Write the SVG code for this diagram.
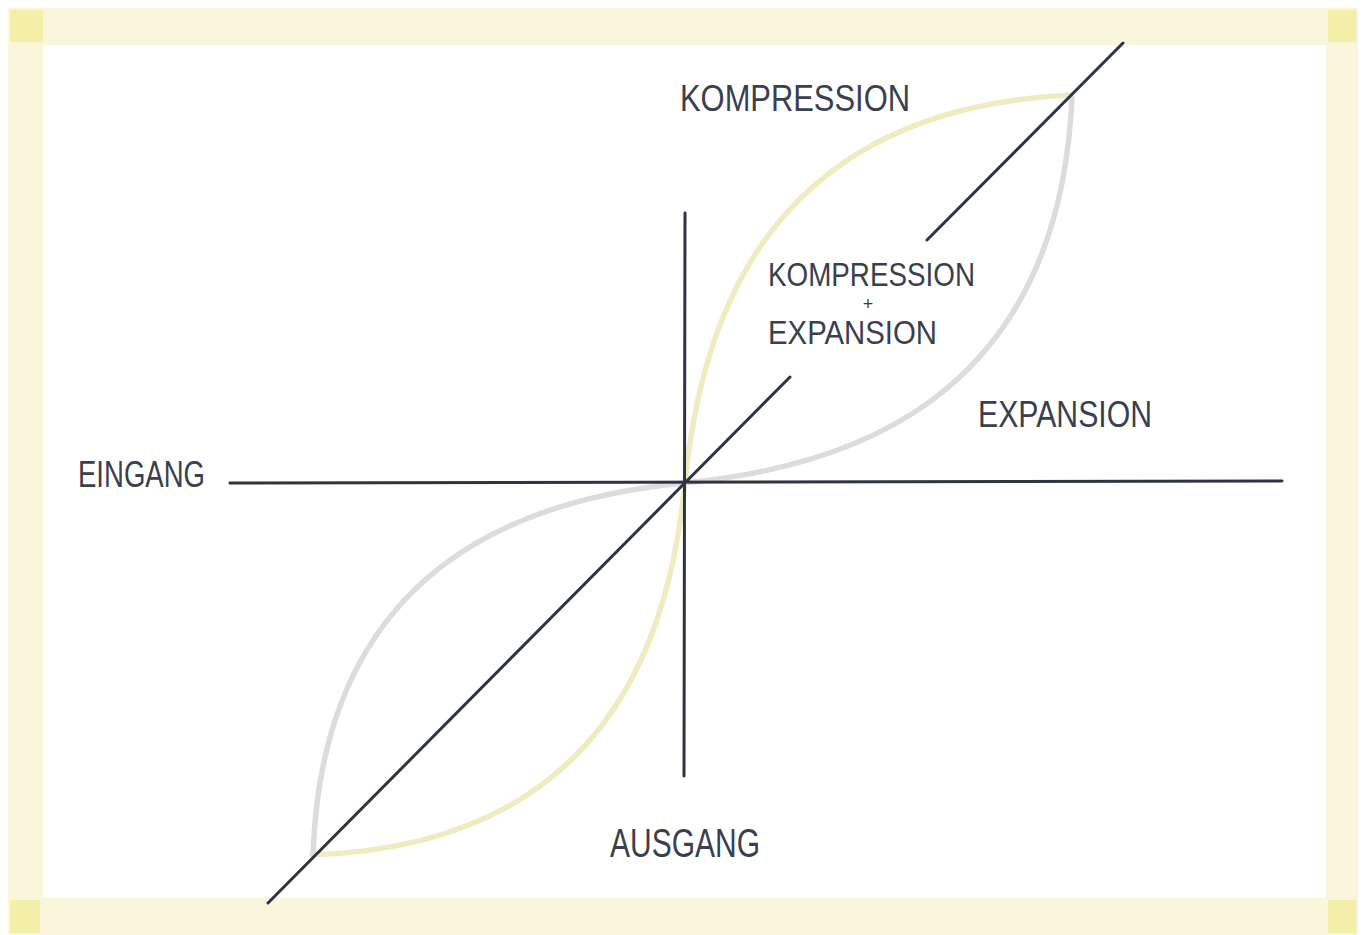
<svg xmlns="http://www.w3.org/2000/svg" width="1366" height="935" viewBox="0 0 1366 935">
<style>
.band{fill:#f9f6dc}
.corner{fill:#f4eea8}
.axis{stroke:#2e3441;stroke-width:3;fill:none;stroke-linecap:round}
.comp{stroke:#f0ecc2;stroke-width:5.5;fill:none;stroke-linecap:round}
.exp{stroke:#dcdcdf;stroke-width:5.5;fill:none;stroke-linecap:round}
.lbl{font-family:"Liberation Sans","DejaVu Sans",sans-serif;fill:#3a404d}
</style>
<rect x="0" y="0" width="1366" height="935" fill="#ffffff"/>
<g id="frame">
<rect class="band" x="8" y="8" width="1350" height="37"/>
<rect class="band" x="8" y="898" width="1350" height="37"/>
<rect class="band" x="8" y="8" width="35" height="927"/>
<rect class="band" x="1326" y="8" width="32" height="927"/>
<rect class="corner" x="10" y="10" width="33" height="32"/>
<rect class="corner" x="1328" y="10" width="28" height="32"/>
<rect class="corner" x="10" y="900" width="30" height="33"/>
<rect class="corner" x="1328" y="900" width="28" height="33"/>
</g>
<g id="curves">
<path id="comp-upper" class="comp" d="M685,483 C700,330 760,110 1070,95"/>
<path id="exp-upper" class="exp" d="M685,483 C838,468 1058,408 1072,98"/>
<path id="comp-lower" class="comp" d="M685,483 C670,631 612,845 312,855"/>
<path id="exp-lower" class="exp" d="M685,483 C537,497 323,556 313,855"/>
</g>
<g id="connectors">
<line class="axis" x1="230" y1="483" x2="1282" y2="481"/>
<line class="axis" x1="685" y1="213" x2="684" y2="776"/>
<line class="axis" x1="268" y1="903" x2="790" y2="377"/>
<line class="axis" x1="927" y1="240" x2="1123" y2="43"/>
</g>
<g id="labels">
<text id="kompression" class="lbl" x="680" y="111" font-size="37" textLength="230" lengthAdjust="spacingAndGlyphs">KOMPRESSION</text>
<g id="kombi">
<text class="lbl" x="768" y="286" font-size="34" textLength="207" lengthAdjust="spacingAndGlyphs">KOMPRESSION</text>
<text class="lbl" x="868" y="310" font-size="18" text-anchor="middle">+</text>
<text class="lbl" x="768" y="344" font-size="33" textLength="169" lengthAdjust="spacingAndGlyphs">EXPANSION</text>
</g>
<text id="expansion" class="lbl" x="978" y="427" font-size="37" textLength="174" lengthAdjust="spacingAndGlyphs">EXPANSION</text>
<text id="eingang" class="lbl" x="78" y="487" font-size="37" textLength="127" lengthAdjust="spacingAndGlyphs">EINGANG</text>
<text id="ausgang" class="lbl" x="610" y="857" font-size="40" textLength="150" lengthAdjust="spacingAndGlyphs">AUSGANG</text>
</g>
</svg>
